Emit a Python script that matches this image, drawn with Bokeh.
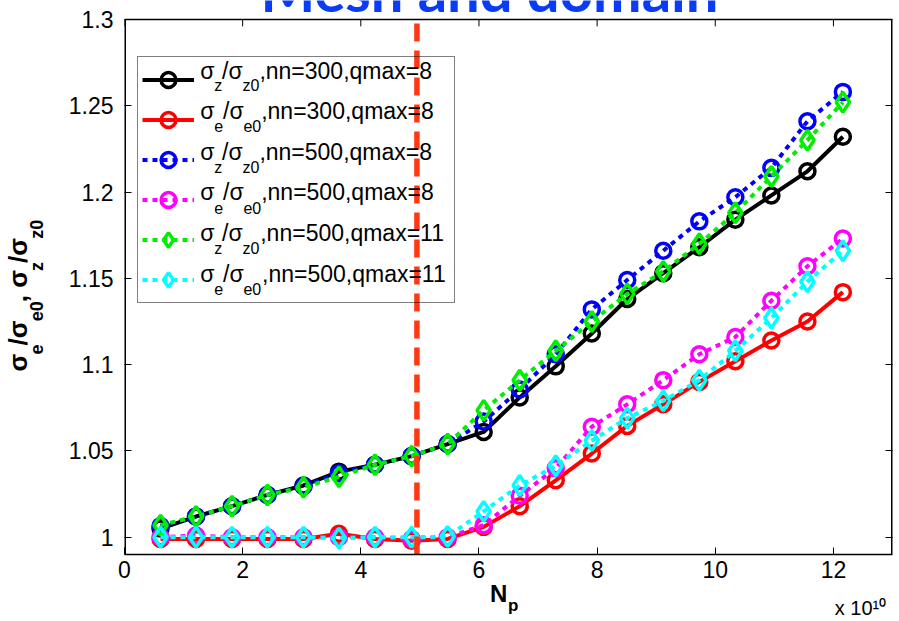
import numpy as np
from bokeh.plotting import figure
from bokeh.models import Range1d, FixedTicker, LinearAxis, Label, Legend, LegendItem
from bokeh.core.properties import value
from bokeh.embed import file_html
from bokeh.resources import INLINE

# ---------------- data ----------------
np_1e10 = [0.61, 1.21, 1.82, 2.42, 3.03, 3.63, 4.24, 4.86, 5.47, 6.08,
           6.69, 7.30, 7.91, 8.51, 9.12, 9.73, 10.34, 10.95, 11.56, 12.16]

sz_nn300_q8 = [1.005, 1.012, 1.018, 1.0245, 1.030, 1.038, 1.042, 1.047, 1.054, 1.061,
               1.081, 1.099, 1.118, 1.138, 1.153, 1.168, 1.184, 1.198, 1.212, 1.232]
se_nn300_q8 = [0.999, 0.999, 0.999, 0.999, 0.999, 1.002, 0.999, 0.998, 0.999, 1.006,
               1.018, 1.033, 1.0485, 1.0645, 1.077, 1.090, 1.102, 1.114, 1.125, 1.142]
sz_nn500_q8 = [1.0065, 1.012, 1.018, 1.0245, 1.0295, 1.037, 1.042, 1.047, 1.054, 1.067,
               1.0856, 1.106, 1.132, 1.149, 1.166, 1.183, 1.197, 1.214, 1.241, 1.258]
se_nn500_q8 = [1.000, 1.001, 1.000, 1.000, 1.000, 1.000, 1.000, 0.999, 1.000, 1.007,
               1.024, 1.040, 1.064, 1.077, 1.091, 1.106, 1.116, 1.137, 1.157, 1.173]
sz_nn500_q11 = [1.007, 1.012, 1.018, 1.0245, 1.029, 1.035, 1.042, 1.047, 1.054, 1.0735,
                1.091, 1.108, 1.125, 1.141, 1.154, 1.170, 1.188, 1.209, 1.230, 1.252]
se_nn500_q11 = [1.000, 1.000, 1.000, 1.000, 1.000, 0.9995, 1.000, 1.000, 1.0004, 1.015,
                1.030, 1.0414, 1.056, 1.069, 1.079, 1.091, 1.108, 1.127, 1.148, 1.166]

threshold_np = 4.95

x_ticks = [0, 2, 4, 6, 8, 10, 12]
x_tick_labels = ["0", "2", "4", "6", "8", "10", "12"]
y_ticks = [1.0, 1.05, 1.1, 1.15, 1.2, 1.25, 1.3]
y_tick_labels = ["1", "1.05", "1.1", "1.15", "1.2", "1.25", "1.3"]

# legend label pieces: (text, is_subscript)
legend_labels = [
    [("σ", 0), ("z", 1), ("/σ", 0), ("z0", 1), (",nn=300,qmax=8", 0)],
    [("σ", 0), ("e", 1), ("/σ", 0), ("e0", 1), (",nn=300,qmax=8", 0)],
    [("σ", 0), ("z", 1), ("/σ", 0), ("z0", 1), (",nn=500,qmax=8", 0)],
    [("σ", 0), ("e", 1), ("/σ", 0), ("e0", 1), (",nn=500,qmax=8", 0)],
    [("σ", 0), ("z", 1), ("/σ", 0), ("z0", 1), (",nn=500,qmax=11", 0)],
    [("σ", 0), ("e", 1), ("/σ", 0), ("e0", 1), (",nn=500,qmax=11", 0)],
]
ylabel_pieces = [("σ", 0), ("e", 1), ("/σ", 0), ("e0", 1), (", σ", 0), ("z", 1), ("/σ", 0), ("z0", 1)]
xlabel_main, xlabel_sub = "N", "p"
multiplier_text = "x 10¹⁰"
title_text = "Mesh and domain"

series = [
    (sz_nn300_q8, "#000000", "solid", "circle"),
    (se_nn300_q8, "#ff0000", "solid", "circle"),
    (sz_nn500_q8, "#0000ff", "5 5", "circle"),
    (se_nn500_q8, "#ff00ff", "5 5", "circle"),
    (sz_nn500_q11, "#00ee00", "5 5", "diamond"),
    (se_nn500_q11, "#00ffff", "5 5", "diamond"),
]

# ---------------- layout helpers ----------------
X0, X1, Y0, Y1 = 0, 13, 0.99, 1.3
FL, FR, AT, FB = 123, 892, 19, 557      # axes box edges in page pixels (AT = top axis line)
SCALE_Y = (Y1 - Y0) / (FB - AT)          # data units per pixel
Y_CANVAS_TOP = Y1 + AT * SCALE_Y         # frame reaches the top of the picture
def sx(px):
    return px - FL
def sy(py):
    return FB - py
def xdat(px):
    return X0 + (px - FL) * (X1 - X0) / (FR - FL)
def ydat(py):
    return Y0 + (FB - py) * SCALE_Y

W_REG = {' ': 0.278, ',': 0.278, '/': 0.278, '=': 0.584, 'n': 0.556, 'q': 0.556, 'm': 0.833,
         'a': 0.556, 'x': 0.5, 'e': 0.556, 'z': 0.5, 'σ': 0.6}
W_BOLD = {' ': 0.278, ',': 0.278, '/': 0.278, 'e': 0.556, 'z': 0.5, 'σ': 0.62, 'N': 0.722, 'p': 0.611}
def text_w(s, size, table):
    return sum(table.get(c, 0.556) for c in s) * size

FONT = "Liberation Sans"
SHIFT = 0.45   # downward shift (em) of an 'alphabetic' Label

p = figure(width=899, height=621, x_range=Range1d(X0, X1), y_range=Range1d(Y0, Y_CANVAS_TOP),
           output_backend="svg", toolbar_location=None,
           min_border_left=FL, min_border_right=899 - FR, min_border_top=0, min_border_bottom=621 - FB)
p.xgrid.visible = False
p.ygrid.visible = False
p.outline_line_color = None
p.background_fill_color = None
p.border_fill_color = None

def style_axis(ax, ticks, labels, show_labels, standoff, line=True):
    ax.ticker = FixedTicker(ticks=ticks)
    ax.major_tick_in = 7
    ax.major_tick_out = 0
    ax.minor_tick_in = 0
    ax.minor_tick_out = 0
    ax.axis_line_color = "black" if line else None
    ax.axis_line_width = 1.5
    ax.major_tick_line_color = "black"
    ax.major_tick_line_width = 1
    if show_labels:
        ax.major_label_overrides = dict(zip(ticks, labels))
        ax.major_label_text_font = FONT
        ax.major_label_text_font_size = "23px"
        ax.major_label_text_color = "black"
        ax.major_label_standoff = standoff
    else:
        ax.major_label_text_font_size = "0px"
        ax.major_label_text_color = None
        ax.major_label_standoff = 0

style_axis(p.xaxis[0], x_ticks, x_tick_labels, True, 6)
style_axis(p.yaxis[0], y_ticks, y_tick_labels, True, 11, line=False)
right_ax = LinearAxis()
style_axis(right_ax, y_ticks, y_tick_labels, False, 0, line=False)
p.add_layout(right_ax, "right")

# box lines (left, right, top) and top ticks of the axes box
p.segment(x0=[X0, X1, X0], y0=[Y0, Y0, Y1], x1=[X0, X1, X1], y1=[Y1, Y1, Y1],
          line_color="black", line_width=[3, 3, 1.5])
p.segment(x0=x_ticks, y0=[Y1] * len(x_ticks), x1=x_ticks, y1=[Y1 - 7 * SCALE_Y] * len(x_ticks),
          line_color="black", line_width=1)

def text_axis(side, ticks, labels, size, bold, standoff, orientation="horizontal"):
    """An axis without line or ticks, used only to print texts outside the frame."""
    ax = LinearAxis(ticker=FixedTicker(ticks=ticks), major_label_overrides=dict(zip(ticks, labels)),
                    axis_line_color=None, major_tick_line_color=None, minor_tick_line_color=None,
                    major_tick_in=0, major_tick_out=0, minor_tick_in=0, minor_tick_out=0,
                    major_label_standoff=standoff, major_label_text_font=FONT,
                    major_label_text_font_size=f"{size}px",
                    major_label_text_font_style=("bold" if bold else "normal"),
                    major_label_text_color="black", major_label_orientation=orientation)
    p.add_layout(ax, side)

# ---- y-axis label: subscripts column (nearer the frame) and main column ----
YM, YS = 26, 18
ypos = 372.0
main_t, main_l, sub_t, sub_l = [], [], [], []
for txt, sub in ylabel_pieces:
    size = YS if sub else YM
    w = text_w(txt, size, W_BOLD)
    c = round(ydat(ypos - w / 2), 6)
    (sub_t if sub else main_t).append(c)
    (sub_l if sub else main_l).append(txt)
    ypos -= w
text_axis("left", sub_t, sub_l, YS, True, 18, "vertical")
text_axis("left", main_t, main_l, YM, True, -9, "vertical")

# ---- x-axis label N_p and the x 10^10 multiplier ----
n_c = round(xdat(489 + text_w("N", 24, W_BOLD) / 2), 6)
p_c = round(xdat(507 + text_w("p", 17, W_BOLD) / 2), 6)
m_c = round(xdat(860), 6)
text_axis("below", [n_c], [xlabel_main], 24, True, -1)
text_axis("below", [p_c], [xlabel_sub], 17, True, -14)
text_axis("below", [m_c], [multiplier_text], 20, False, -21)

# ---- series ----
items = []
for vals, color, dash, marker in series:
    ln = p.line(np_1e10, vals, line_color=color, line_width=4, line_dash=dash, line_cap="butt")
    sc = p.scatter(np_1e10, vals, marker=marker, size=(15 if marker == "circle" else 20),
                   line_color=color, fill_color=None, line_width=3.5)
    items.append(LegendItem(label=value(" "), renderers=[ln, sc]))

# vertical dashed threshold line (from the bottom axis to the top axis)
p.segment(x0=[threshold_np], y0=[Y0], x1=[threshold_np], y1=[Y1], line_color="#ff3814",
          line_width=5.5, line_dash="18 9")

legend = Legend(items=items, location=(sx(136), sy(306)), margin=0, padding=4, spacing=3,
                glyph_height=37, glyph_width=52, label_height=37, label_width=250,
                label_standoff=6, border_line_color="black", border_line_width=1.2,
                background_fill_color=None, background_fill_alpha=0.0,
                label_text_font_size="10px")
p.add_layout(legend)

def add_label(cx, base, text, size, bold=False, color="black", font=FONT, shift=SHIFT):
    y_page = base - shift * size
    p.add_layout(Label(x=sx(cx), y=sy(y_page), x_units="screen", y_units="screen", text=text,
                       text_font=font, text_font_style=("bold" if bold else "normal"),
                       text_font_size=f"{size}px", text_color=color,
                       text_align="center", text_baseline="alphabetic", level="overlay"))

# legend texts with subscripts
MAIN, SUB = 23, 16
for i, pieces in enumerate(legend_labels):
    rc = 81 + 40.6 * i
    x = 199.0
    for txt, sub in pieces:
        size = SUB if sub else MAIN
        base = rc + (14.5 if sub else 2.5)
        w = text_w(txt, size, W_REG)
        add_label(x + w / 2, base, txt, size)
        x += w

# slide title, cut off by the top of the picture
add_label(488, 13, title_text, 58, bold=True, color="#0a3cf5", font="Lato", shift=21 / 58)

open("out.html", "w").write(file_html(p, INLINE))
